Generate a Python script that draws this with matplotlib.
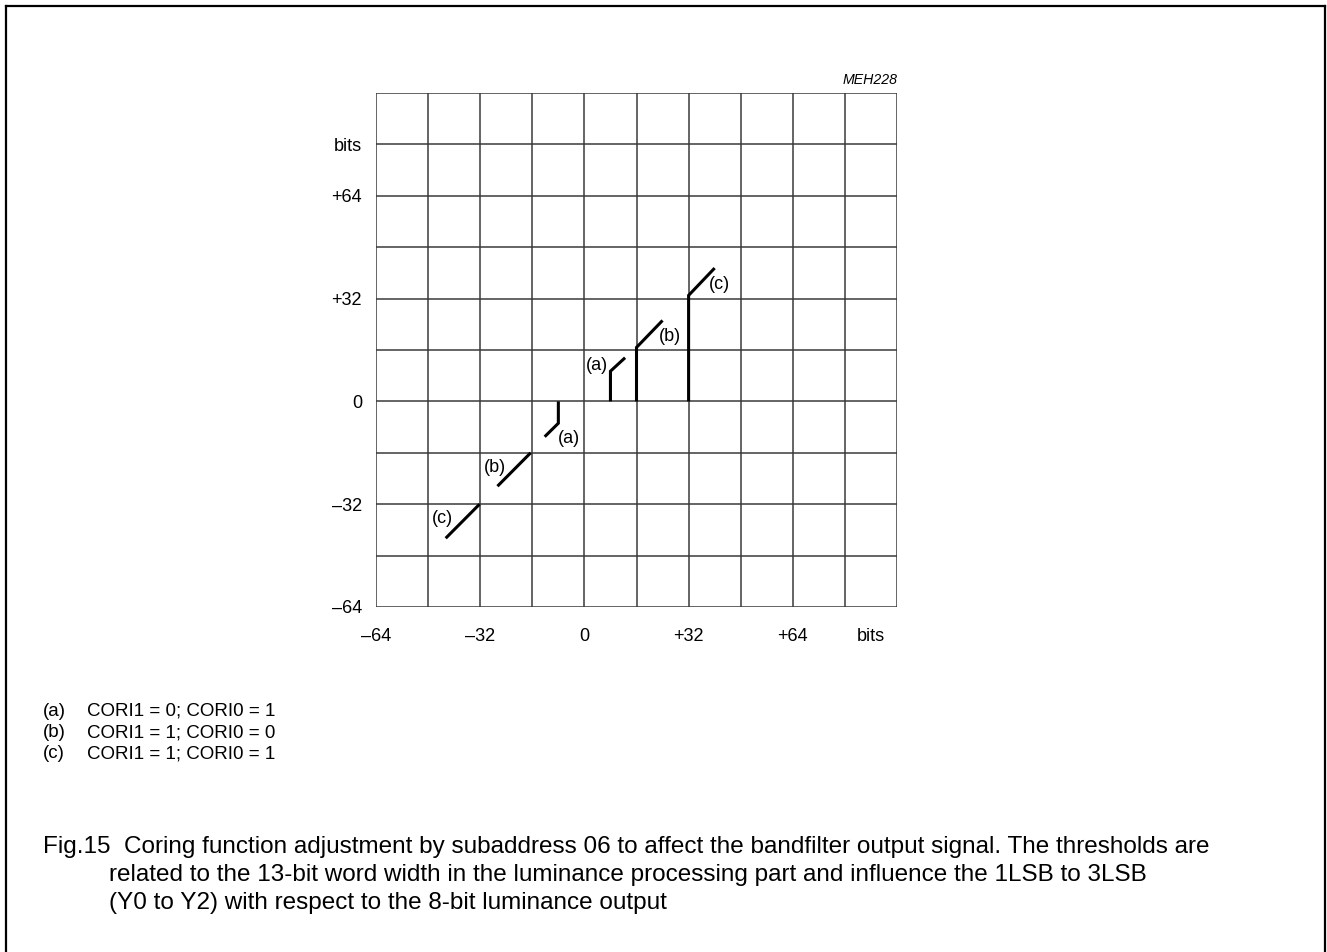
import matplotlib
matplotlib.use("Agg")
import matplotlib.pyplot as plt
from matplotlib.lines import Line2D

plt.rcParams['font.family'] = ['Liberation Sans', 'DejaVu Sans']

# ---- data ----
x_ticks = [-64, -32, 0, 32, 64, 88]
x_tick_labels = ["\u201364", "\u201332", "0", "+32", "+64", "bits"]
y_ticks = [-64, -32, 0, 32, 64, 80]
y_tick_labels = ["\u201364", "\u201332", "0", "+32", "+64", "bits"]
grid_lines = list(range(-64, 97, 16))

# coring curves (x, y) polylines
pos_a_x = [8, 8, 12.5]
pos_a_y = [0, 9.4, 13.6]
pos_b_x = [16, 16, 24]
pos_b_y = [0, 16.8, 25.2]
pos_c_x = [32, 32, 40]
pos_c_y = [0, 33, 41.5]
neg_a_x = [-8, -8, -12.2]
neg_a_y = [0, -6.8, -11]
neg_b_x = [-16.5, -26.7]
neg_b_y = [-16, -26.4]
neg_c_x = [-32.2, -42.6]
neg_c_y = [-32, -42.6]

curve_labels = ["(a)", "(b)", "(c)", "(a)", "(b)", "(c)"]
label_x = [3.8, 26.2, 41.6, -4.9, -27.6, -43.6]
label_y = [11.2, 20.2, 36.4, -11.6, -20.5, -36.6]

legend_keys = ["(a)", "(b)", "(c)"]
legend_texts = ["CORI1 = 0; CORI0 = 1", "CORI1 = 1; CORI0 = 0", "CORI1 = 1; CORI0 = 1"]

caption_lines = [
    "Fig.15  Coring function adjustment by subaddress 06 to affect the bandfilter output signal. The thresholds are",
    "related to the 13-bit word width in the luminance processing part and influence the 1LSB to 3LSB",
    "(Y0 to Y2) with respect to the 8-bit luminance output",
]

W, H = 1327, 952
fig = plt.figure(figsize=(W / 100, H / 100), dpi=100)
fig.patch.set_facecolor("white")

# outer frame (left, top, right)
fx0, fx1, fy = 5.5 / W, 1 - 2 / W, 1 - 5.5 / H
fig.add_artist(Line2D([fx0, fx0], [0, fy], transform=fig.transFigure, color="black", lw=1.6))
fig.add_artist(Line2D([fx0, fx1], [fy, fy], transform=fig.transFigure, color="black", lw=1.6))
fig.add_artist(Line2D([fx1, fx1], [0, fy], transform=fig.transFigure, color="black", lw=1.6))

left, right, top, bottom = 376, 897, 93, 607
ax = fig.add_axes([left / W, 1 - bottom / H, (right - left) / W, (bottom - top) / H])
ax.set_xlim(-64, 96)
ax.set_ylim(-64, 96)
for g in grid_lines:
    ax.axvline(g, color="#3a3a3a", lw=1.1, zorder=1)
    ax.axhline(g, color="#3a3a3a", lw=1.1, zorder=1)
for s in ax.spines.values():
    s.set_visible(False)

ax.set_xticks(x_ticks)
ax.set_xticklabels(x_tick_labels, fontsize=13)
ax.set_yticks(y_ticks)
ax.set_yticklabels(y_tick_labels, fontsize=13)
ax.tick_params(axis="x", length=0, pad=15)
ax.tick_params(axis="y", length=0, pad=10)

for xs, ys in [(pos_a_x, pos_a_y), (pos_b_x, pos_b_y), (pos_c_x, pos_c_y),
               (neg_a_x, neg_a_y), (neg_b_x, neg_b_y), (neg_c_x, neg_c_y)]:
    ax.plot(xs, ys, color="black", lw=2.2, solid_capstyle="butt", solid_joinstyle="miter", zorder=3)

for t, lx, ly in zip(curve_labels, label_x, label_y):
    ax.text(lx, ly, t, fontsize=13, ha="center", va="center", zorder=4)

ax.text(96.3, 97.8, "MEH228", fontsize=10.2, style="italic", ha="right", va="bottom")

# legend block
for i, (k, t) in enumerate(zip(legend_keys, legend_texts)):
    yy = 1 - (711 + i * 21.5) / H
    fig.text(43 / W, yy, k, fontsize=13.5, ha="left", va="center")
    fig.text(87 / W, yy, t, fontsize=13.5, ha="left", va="center")

# caption
fig.text(43 / W, 1 - 847 / H, caption_lines[0], fontsize=17.5, ha="left", va="center")
fig.text(109 / W, 1 - 875 / H, caption_lines[1], fontsize=17.5, ha="left", va="center")
fig.text(109 / W, 1 - 903 / H, caption_lines[2], fontsize=17.5, ha="left", va="center")

fig.savefig("out.png", dpi=100, facecolor="white")
